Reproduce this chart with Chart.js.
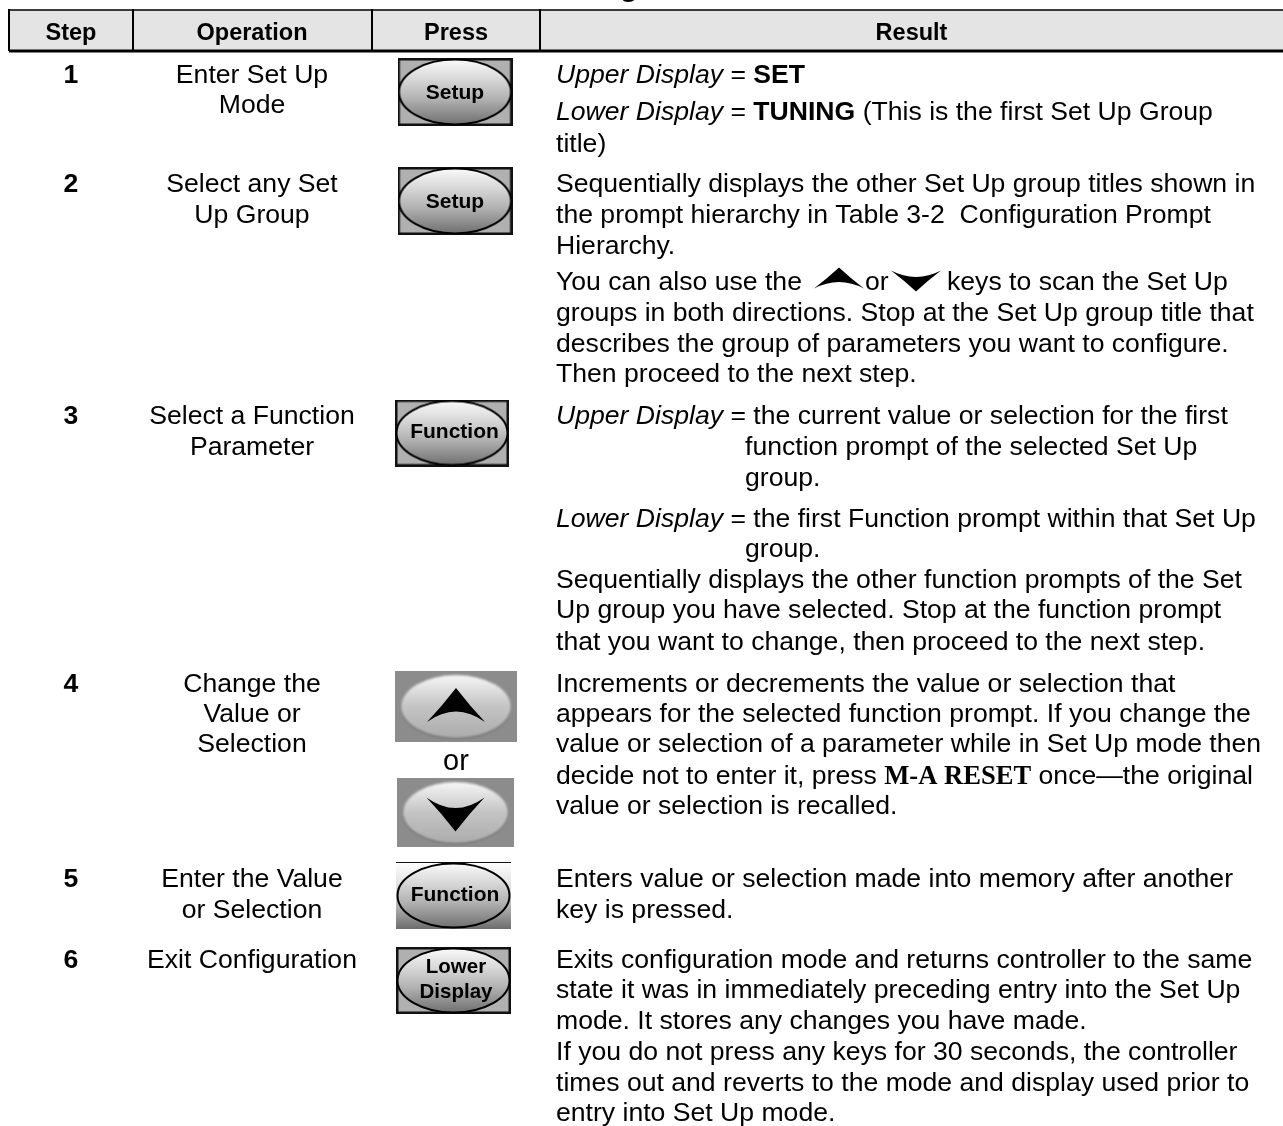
<!DOCTYPE html>
<html><head><meta charset="utf-8">
<style>html,body{margin:0;padding:0;background:#fff}canvas{display:block}</style>
<script src="https://cdn.jsdelivr.net/npm/chart.js@4"></script>
</head><body><canvas id="c" width="1283" height="1126"></canvas>
<script>
// ---- table content ----
const headers = ["Step","Operation","Press","Result"];
const steps = ["1","2","3","4","5","6"];
const operations = [
  ["Enter Set Up","Mode"],
  ["Select any Set","Up Group"],
  ["Select a Function","Parameter"],
  ["Change the","Value or","Selection"],
  ["Enter the Value","or Selection"],
  ["Exit Configuration"]
];
const pressLabels = [["Setup"],["Setup"],["Function"],["Function"],["Lower","Display"]];
const pressJoiner = "or";
const titleFragment = "g";
const resultLines = [
  "Upper Display = SET",
  "Lower Display = TUNING (This is the first Set Up Group",
  "title)",
  "Sequentially displays the other Set Up group titles shown in",
  "the prompt hierarchy in Table 3-2  Configuration Prompt",
  "Hierarchy.",
  "You can also use the",
  "groups in both directions. Stop at the Set Up group title that",
  "describes the group of parameters you want to configure.",
  "Then proceed to the next step.",
  "Upper Display = the current value or selection for the first",
  "function prompt of the selected Set Up",
  "group.",
  "Lower Display = the first Function prompt within that Set Up",
  "group.",
  "Sequentially displays the other function prompts of the Set",
  "Up group you have selected. Stop at the function prompt",
  "that you want to change, then proceed to the next step.",
  "Increments or decrements the value or selection that",
  "appears for the selected function prompt. If you change the",
  "value or selection of a parameter while in Set Up mode then",
  "decide not to enter it, press M-A RESET once\u2014the original",
  "value or selection is recalled.",
  "Enters value or selection made into memory after another",
  "key is pressed.",
  "Exits configuration mode and returns controller to the same",
  "state it was in immediately preceding entry into the Set Up",
  "mode. It stores any changes you have made.",
  "If you do not press any keys for 30 seconds, the controller",
  "times out and reverts to the mode and display used prior to",
  "entry into Set Up mode."
];
const inlineFragments = ["or","keys to scan the Set Up"];
const italicPhrases = ["Upper Display","Lower Display"];
const boldPhrases = ["SET","TUNING"];
const serifPhrases = ["M-A RESET"];

// ---- layout, in the chart's axis units (kept apart from the content) ----
const W = 1283, H = 1126;
const columnEdges = [9,133,372,540];
const headerTop = 10, headerBottom = 51, headerBaseline = 40;
const stepX = 71, operationX = 252, pressX = 456, resultX = 556;
const stepBase = [83,192,424,692,887,968];
const operationBase = [[83,113],[192,223],[424,455],[692,722,752],[887,918],[968]];
const resultBase = [83,120,152,192,223,254,290,321,352,382,424,455,486,527,557,588,618,650,692,722,752,784,814,887,918,968,998,1029,1060,1091,1121];
const resultIndent = {11:745,12:745,14:745};
const keyCx = [455,455,452,456,455.5,453.5,453.5], keyCy = [92,201,433,706.5,812.5,895.5,980.5];
const labelCx = [455,455,454.5,455,456], labelBase = [[99],[208],[438],[901],[973,998]];
const joinerBase = 770;
const inlineX = [865,947], inlineLine = 6;
const inlineArrowX = [839,916], inlineArrowY = [278,281];

// ---- button artwork, used as Chart.js point styles ----
function mk(w,h,draw){const c=document.createElement('canvas');c.width=w;c.height=h;draw(c.getContext('2d'),w,h);return c;}
function oval(g,w,h){
  const i=1.5,lg=g.createLinearGradient(0,i,0,h-i);
  lg.addColorStop(0,'#fafafa');lg.addColorStop(.3,'#d8d8d8');lg.addColorStop(.62,'#b0b0b0');lg.addColorStop(1,'#707070');
  g.fillStyle=lg;g.beginPath();g.ellipse(w/2,h/2,w/2-i,h/2-i,0,0,Math.PI*2);g.fill();
  g.strokeStyle='#000';g.lineWidth=2;g.stroke();
}
function keyCap(w,h,flat){return mk(w,h,(g)=>{
  if(flat){const l=g.createLinearGradient(0,0,0,h);l.addColorStop(0,'#ffffff');l.addColorStop(.5,'#d4d4d4');l.addColorStop(1,'#6c6c6c');g.fillStyle=l;g.fillRect(0,0,w,h);
    g.fillStyle='#111';g.fillRect(0,0,w,1);
  } else {g.fillStyle='#b0b0b0';g.fillRect(0,0,w,h);g.strokeStyle='#111';g.lineWidth=2.5;g.strokeRect(1.25,1.25,w-2.5,h-2.5);}
  oval(g,w,h);
});}
function arrowPath(g,cx,cy,w,h,dir){
  g.beginPath();
  g.moveTo(cx,cy-dir*h/2);
  g.quadraticCurveTo(cx+w*.24,cy+dir*h*.03,cx+w/2,cy+dir*h/2);
  g.quadraticCurveTo(cx,cy-dir*h*.12,cx-w/2,cy+dir*h/2);
  g.quadraticCurveTo(cx-w*.24,cy+dir*h*.03,cx,cy-dir*h/2);
  g.closePath();g.fillStyle='#000';g.fill();
}
function arrowKey(w,h,dir){return mk(w,h,(g)=>{
  g.fillStyle='#8c8c8c';g.fillRect(0,0,w,h);
  g.filter='blur(1.2px)';
  g.fillStyle='#6a6a6a';g.beginPath();g.ellipse(w/2,h/2+1,w/2-6,h/2-4,0,0,Math.PI*2);g.fill();
  const l=g.createLinearGradient(0,4,0,h-4);l.addColorStop(0,'#f6f6f6');l.addColorStop(.5,'#c4c4c4');l.addColorStop(1,'#acacac');
  g.fillStyle=l;g.beginPath();g.ellipse(w/2,h/2,w/2-6,h/2-4,0,0,Math.PI*2);g.fill();
  g.filter='blur(.4px)';
  arrowPath(g,w/2,h/2+(dir>0?-1.5:2),58,34,dir);
  g.filter='none';
});}
function inlineArrow(dir){return mk(60,30,(g)=>{g.filter='blur(.7px)';arrowPath(g,30,15,50,21,dir);});}
const keyStyles = [keyCap(115,68),keyCap(115,68),keyCap(114,67),arrowKey(122,71,1),arrowKey(117,69,-1),keyCap(115,67,true),keyCap(115,67)];

// ---- text plugin: every label positioned through the chart's scales ----
const SANS='"Liberation Sans",Arial,sans-serif', SERIF='"Liberation Serif",serif';
const FS=26.6, KEY_FS=21;
function segments(line){
  const marks=[...serifPhrases.map(p=>[p,'s']),...italicPhrases.map(p=>[p,'i']),...boldPhrases.map(p=>[p,'b'])];
  let out=[[line,'']];
  for(const [p,k] of marks){
    const nx=[];
    for(const [t,s] of out){
      if(s||!t.includes(p)){nx.push([t,s]);continue;}
      const i=t.indexOf(p);
      if(t.slice(0,i))nx.push([t.slice(0,i),'']);
      nx.push([p,k]);
      if(t.slice(i+p.length))nx.push([t.slice(i+p.length),'']);
    }
    out=nx;
  }
  return out;
}
function fontFor(k){
  if(k==='i')return `italic ${FS}px ${SANS}`;
  if(k==='b')return `bold ${FS}px ${SANS}`;
  if(k==='s')return `bold ${FS}px ${SERIF}`;
  return `${FS}px ${SANS}`;
}
const tablePlugin={id:'table',
  beforeDatasetsDraw(ch){
    const g=ch.ctx,x=ch.scales.x,y=ch.scales.y;
    g.save();g.fillStyle='#e4e4e4';
    const l=x.getPixelForValue(columnEdges[0]),t=y.getPixelForValue(headerTop);
    g.fillRect(l,t,x.getPixelForValue(W)-l,y.getPixelForValue(headerBottom)-t);
    g.restore();
  },
  afterDatasetsDraw(ch){
    const g=ch.ctx,x=ch.scales.x,y=ch.scales.y;
    const put=(s,px,py,font,align)=>{g.font=font;g.textAlign=align;g.textBaseline='alphabetic';g.fillStyle='#000';g.fillText(s,x.getPixelForValue(px),y.getPixelForValue(py));};
    g.save();
    put(titleFragment,629,-4,`bold 30px ${SANS}`,'center');
    const hx=[stepX,operationX,pressX,(columnEdges[3]+W)/2];
    headers.forEach((h,i)=>put(h,hx[i],headerBaseline,`bold 23.5px ${SANS}`,'center'));
    steps.forEach((s,i)=>put(s,stepX,stepBase[i],`bold ${FS}px ${SANS}`,'center'));
    operations.forEach((o,i)=>o.forEach((s,j)=>put(s,operationX,operationBase[i][j],`${FS}px ${SANS}`,'center')));
    pressLabels.forEach((lines,i)=>lines.forEach((s,j)=>put(s,labelCx[i],labelBase[i][j],`bold ${lines.length>1?20.5:KEY_FS}px ${SANS}`,'center')));
    put(pressJoiner,pressX,joinerBase,`29px ${SANS}`,'center');
    resultLines.forEach((line,i)=>{
      let cx=resultIndent[i]??resultX;
      for(const [t,k] of segments(line)){
        put(t,cx,resultBase[i],fontFor(k),'left');
        cx+=g.measureText(t).width;
      }
    });
    inlineFragments.forEach((s,i)=>put(s,inlineX[i],resultBase[inlineLine],fontFor(''),'left'));
    g.restore();
  }
};

// ---- chart ----
const rule=(x1,y1,x2,y2,w)=>({type:'line',data:[{x:x1,y:y1},{x:x2,y:y2}],borderColor:'#000',borderWidth:w,pointRadius:0,clip:false,order:2});
const datasets=[
  rule(columnEdges[0],headerTop,W,headerTop,1.5),
  rule(columnEdges[0],headerBottom,W,headerBottom,3),
  ...columnEdges.map(e=>rule(e,headerTop-1,e,headerBottom,2)),
  {type:'scatter',data:keyCx.map((v,i)=>({x:v,y:keyCy[i]})),pointStyle:keyStyles,pointRadius:10,pointHoverRadius:10,order:1},
  {type:'scatter',data:inlineArrowX.map((v,i)=>({x:v,y:inlineArrowY[i]})),pointStyle:[inlineArrow(1),inlineArrow(-1)],pointRadius:10,order:1}
];
new Chart(document.getElementById('c'),{
  type:'scatter',
  data:{datasets},
  options:{responsive:false,animation:false,events:[],devicePixelRatio:1,
    layout:{padding:0,autoPadding:false},
    plugins:{legend:{display:false},tooltip:{enabled:false},title:{display:false}},
    scales:{x:{type:'linear',display:false,min:0,max:W},y:{type:'linear',display:false,min:0,max:H,reverse:true}}
  },
  plugins:[tablePlugin]
});
</script></body></html>
